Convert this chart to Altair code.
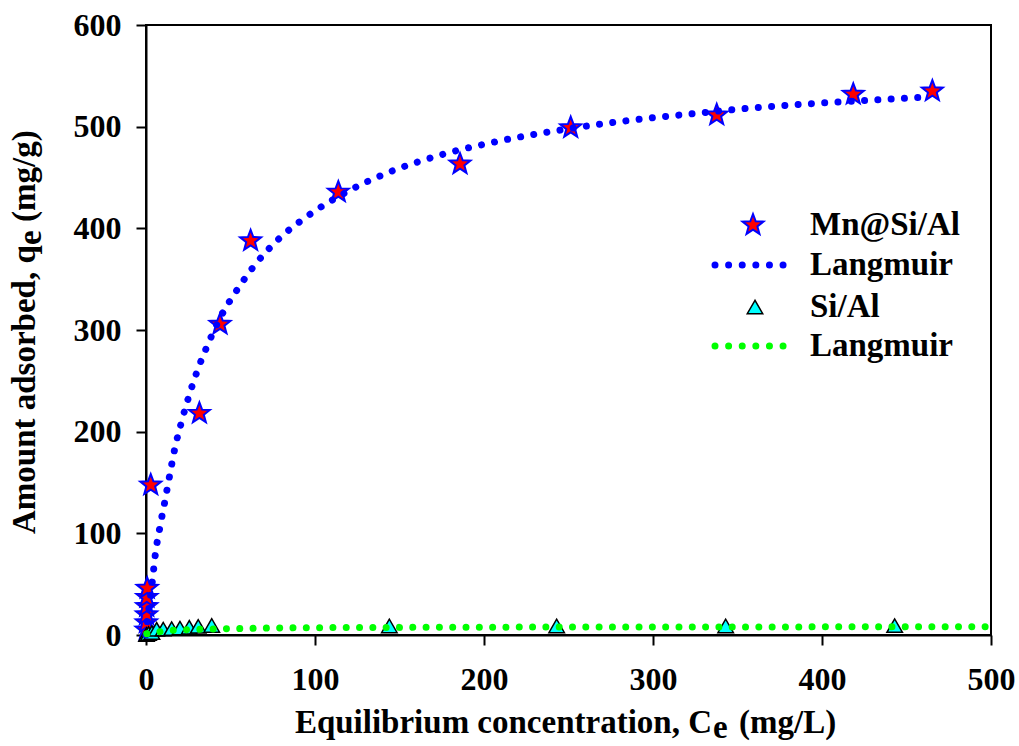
import math
import altair as alt
import pandas as pd

# Mn@Si/Al adsorption data (Ce in mg/L, qe in mg/g)
mn_ce = [0.1, 0.2, 0.3, 0.4, 0.5, 0.7, 2.8, 31.6, 43.8, 61.9, 113.8, 185.8, 251.3, 337.7, 418.5, 465.3]
mn_qe = [5, 12, 20, 28, 37, 46, 147.5, 218, 305.6, 387.8, 435.6, 463.3, 499, 511.5, 531.8, 535]

# Langmuir fit for Mn@Si/Al
mn_fit_ce = [0, 1, 2, 3.7, 5.5, 8.1, 11.1, 14.0, 17.0, 20.9, 25.4, 30.6, 36.9, 44.2, 53.7,
             64.9, 79.5, 95.5, 119, 142, 173, 205, 243.8, 283, 322, 361, 400, 439, 463]
mn_fit_qe = [0, 16, 30, 52, 79, 105, 131, 157, 183, 209, 235, 261, 287, 313, 339,
             365, 391, 412, 436, 454, 471.5, 484.5, 496.3, 505.5, 512.5, 518.7, 523.3, 527, 529.3]

# Si/Al adsorption data
si_ce = [0.3, 1.5, 3.5, 6.3, 10.2, 15.2, 20.1, 25.6, 30.9, 38.9, 144, 243, 343, 443]
si_qe = [0.5, 1.5, 2.5, 5.6, 5.8, 6.3, 6.8, 7.6, 8.5, 9.4, 8.9, 8.9, 8.9, 9.2]

# Langmuir fit for Si/Al
si_fit_ce = [0.5, 8.3, 16.2, 24.4, 32, 40, 55.6, 71.4, 100, 150, 200, 300, 400, 500]
si_fit_qe = [1.2, 3.3, 4.6, 5.2, 5.6, 5.9, 6.3, 6.8, 7.2, 7.5, 7.7, 7.9, 8.0, 8.1]

# Axis ticks
x_ticks = [0, 100, 200, 300, 400, 500]
y_ticks = [0, 100, 200, 300, 400, 500, 600]

FONT = "'Liberation Serif', 'Times New Roman', serif"
BLUE = "#0000FF"
GREEN = "#00FF00"
RED = "#FF0000"
CYAN = "#00FFFF"
DOTS = [0.01, 13.3]


def star_path(inner=0.42):
    pts = []
    for k in range(10):
        ang = math.radians(-90 + 36 * k)
        rad = 1.0 if k % 2 == 0 else inner
        pts.append(f"{rad * math.cos(ang):.3f},{rad * math.sin(ang):.3f}")
    return "M" + " L".join(pts) + " Z"


STAR = star_path()

mn_df = pd.DataFrame({"ce": mn_ce, "qe": mn_qe})
mn_fit_df = pd.DataFrame({"ce": mn_fit_ce, "qe": mn_fit_qe})
si_df = pd.DataFrame({"ce": si_ce, "qe": si_qe})
si_fit_df = pd.DataFrame({"ce": si_fit_ce, "qe": si_fit_qe})
one = pd.DataFrame({"k": [0]})

x_scale = alt.Scale(domain=[0, 500], nice=False, zero=False)
y_scale = alt.Scale(domain=[0, 600], nice=False)

axis_common = dict(
    title=None, grid=False, labelFont=FONT, labelFontSize=32, labelFontWeight="bold",
    labelColor="black", domainColor="black", domainWidth=2, tickColor="black",
    tickWidth=2, tickSize=10, labelFlush=False, labelOverlap=False,
)
x_enc = alt.X("ce:Q", scale=x_scale, axis=alt.Axis(values=x_ticks, labelPadding=19, **axis_common))
y_enc = alt.Y("qe:Q", scale=y_scale, axis=alt.Axis(values=y_ticks, labelPadding=15, **axis_common))

stars = alt.Chart(mn_df).mark_point(
    shape=STAR, fill=RED, stroke=BLUE, strokeWidth=2, size=484, opacity=1, fillOpacity=1
).encode(x=x_enc, y=y_enc)

triangles = alt.Chart(si_df).mark_point(
    shape="triangle-up", fill=CYAN, stroke="black", strokeWidth=1.5, size=240, opacity=1, fillOpacity=1
).encode(x=x_enc, y=y_enc)

mn_fit = alt.Chart(mn_fit_df).mark_line(
    color=BLUE, strokeWidth=7, strokeDash=DOTS, strokeCap="round", interpolate="monotone"
).encode(x=x_enc, y=y_enc)

si_fit = alt.Chart(si_fit_df).mark_line(
    color=GREEN, strokeWidth=7, strokeDash=DOTS, strokeCap="round", interpolate="monotone"
).encode(x=x_enc, y=y_enc)


def label(text, x, y, size=33, align="left", baseline="alphabetic", angle=0):
    kw = dict(text=text, font=FONT, fontSize=size, fontWeight="bold", color="black",
              align=align, baseline=baseline)
    if angle:
        kw["angle"] = angle
    return alt.Chart(one).mark_text(**kw).encode(x=alt.value(x), y=alt.value(y))


# Axis titles with subscript "e"
x_title = (
    label("Equilibrium concentration, C", 566, 708, align="right")
    + label("e", 567, 713)
    + label("(mg/L)", 593, 708)
)
y_title = (
    label("Amount adsorbed, q", -111, 509, angle=270)
    + label("e", -105, 220, angle=270)
    + label("(mg/g)", -111, 197, angle=270)
)

# Legend
leg_star = alt.Chart(one).mark_point(
    shape=STAR, fill=RED, stroke=BLUE, strokeWidth=2, size=484, opacity=1, fillOpacity=1
).encode(x=alt.value(607), y=alt.value(200))
leg_tri = alt.Chart(one).mark_point(
    shape="triangle-up", fill=CYAN, stroke="black", strokeWidth=1.5, size=240, opacity=1, fillOpacity=1
).encode(x=alt.value(609), y=alt.value(282))
leg_blue = alt.Chart(one).mark_rule(
    color=BLUE, strokeWidth=7, strokeDash=[0.01, 13.6], strokeCap="round"
).encode(x=alt.value(569), x2=alt.value(637.1), y=alt.value(240))
leg_green = alt.Chart(one).mark_rule(
    color=GREEN, strokeWidth=7, strokeDash=[0.01, 13.6], strokeCap="round"
).encode(x=alt.value(569), x2=alt.value(637.1), y=alt.value(321))
leg_text = (
    label("Mn@Si/Al", 664, 200, baseline="middle")
    + label("Langmuir", 664, 240, baseline="middle")
    + label("Si/Al", 664, 282, baseline="middle")
    + label("Langmuir", 664, 321, baseline="middle")
)

chart = alt.layer(
    stars, triangles, mn_fit, si_fit,
    x_title, y_title,
    leg_star, leg_blue, leg_tri, leg_green, leg_text,
).properties(
    width=845, height=610,
    autosize=alt.AutoSizeParams(type="none"),
    padding={"left": 146, "top": 25, "right": 28, "bottom": 111},
    background="white",
).configure_view(stroke="black", strokeWidth=2)

chart.save("out.html", embed_options={"renderer": "svg", "actions": False})
